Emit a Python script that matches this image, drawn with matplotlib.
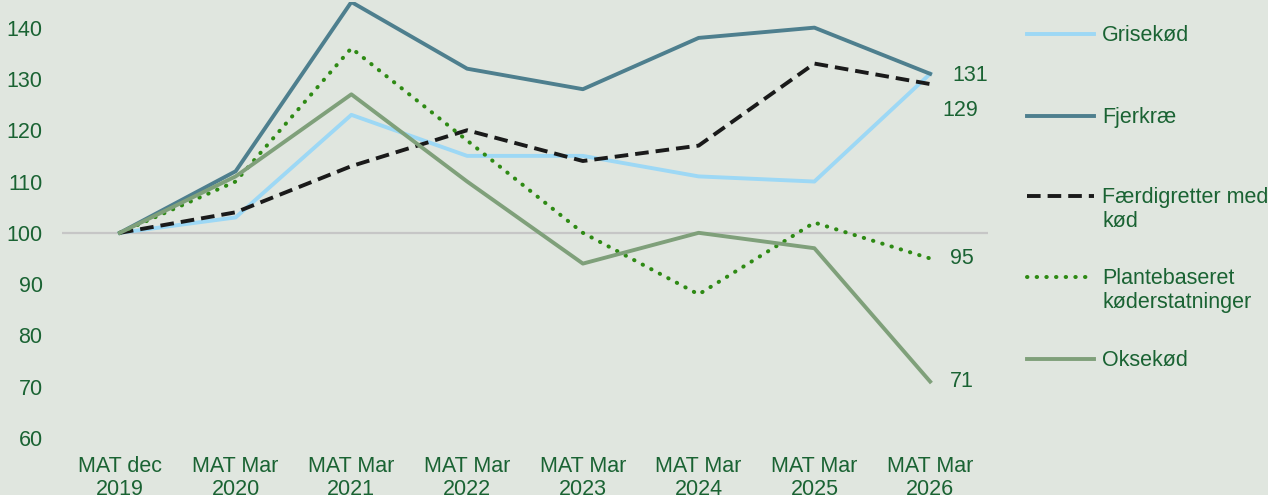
import matplotlib.pyplot as plt
from matplotlib.lines import Line2D

plt.rcParams['font.family'] = ['Liberation Sans', 'DejaVu Sans']

categories = ['MAT dec\n2019', 'MAT Mar\n2020', 'MAT Mar\n2021', 'MAT Mar\n2022',
              'MAT Mar\n2023', 'MAT Mar\n2024', 'MAT Mar\n2025', 'MAT Mar\n2026']

grisekod = [100, 103, 123, 115, 115, 111, 110, 131]
fjerkrae = [100, 112, 145, 132, 128, 138, 140, 131]
faerdigretter = [100, 104, 113, 120, 114, 117, 133, 129]
plantebaseret = [100, 110, 136, 118, 100, 88, 102, 95]
oksekod = [100, 111, 127, 110, 94, 100, 97, 71]

names = ['Grisekød', 'Fjerkræ', 'Færdigretter med\nkød', 'Plantebaseret\nkøderstatninger', 'Oksekød']
series = [grisekod, fjerkrae, faerdigretter, plantebaseret, oksekod]

bg = '#e0e6df'
txt = '#1a6333'
fs = 15.5
colors = ['#9dd8f5', '#4e7f8e', '#1a1a1a', '#2e8a14', '#7fa07a']
styles = [dict(ls='-'), dict(ls='-'), dict(ls=(0, (3.5, 1.8))),
          dict(ls=(0, (0.1, 2.3)), dash_capstyle='round'), dict(ls='-')]
widths = [2.8, 2.8, 2.8, 2.9, 2.8]

fig = plt.figure(figsize=(12.68, 4.95), dpi=100, facecolor=bg)
ax = fig.add_axes([62 / 1268, 1 - 438 / 495, (988 - 62) / 1268, 436 / 495])
ax.set_facecolor(bg)

x = list(range(len(categories)))
ax.axhline(100, color='#c6c6c6', lw=1.6, zorder=1)
for vals, c, st, w in zip(series, colors, styles, widths):
    ax.plot(x, vals, color=c, lw=w, zorder=3, **st)

ax.set_xlim(-0.5, len(categories) - 0.5)
ax.set_ylim(60, 145)
ax.set_yticks(range(60, 141, 10))
ax.set_xticks(x)
ax.set_xticklabels(categories, linespacing=1.15)
ax.tick_params(axis='both', length=0, labelsize=fs, labelcolor=txt)
ax.tick_params(axis='y', pad=14)
ax.tick_params(axis='x', pad=13)
for s in ax.spines.values():
    s.set_visible(False)

# end labels
ax.annotate(str(fjerkrae[-1]), (x[-1], fjerkrae[-1]), xytext=(16, -1), textcoords='offset points',
            va='center', ha='left', fontsize=fs, color=txt)
ax.annotate(str(faerdigretter[-1]), (x[-1], faerdigretter[-1]), xytext=(9, -19), textcoords='offset points',
            va='center', ha='left', fontsize=fs, color=txt)
ax.annotate(str(plantebaseret[-1]), (x[-1], plantebaseret[-1]), xytext=(14, 0), textcoords='offset points',
            va='center', ha='left', fontsize=fs, color=txt)
ax.annotate(str(oksekod[-1]), (x[-1], oksekod[-1]), xytext=(14, 0), textcoords='offset points',
            va='center', ha='left', fontsize=fs, color=txt)

# legend drawn by hand so the handle sits on the first text line
leg_y = [34, 116, 196, 277, 359]
for name, c, st, w, yy in zip(names, colors, styles, widths, leg_y):
    fy = 1 - yy / 495
    fig.add_artist(Line2D([1027 / 1268, 1094 / 1268], [fy, fy], color=c, lw=w,
                          transform=fig.transFigure, **st))
    fig.text(1102 / 1268, fy + 9 / 495, name, ha='left', va='top', fontsize=fs,
             color=txt, linespacing=1.2)

fig.savefig('out.png', dpi=100, facecolor=bg)
